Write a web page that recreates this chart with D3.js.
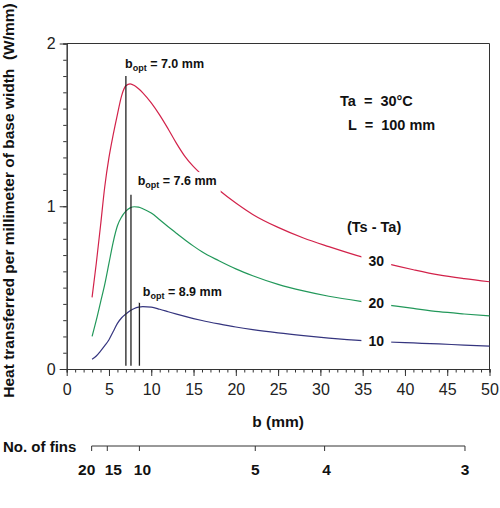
<!DOCTYPE html>
<html>
<head>
<meta charset="utf-8">
<script src="https://cdn.jsdelivr.net/npm/d3@7"></script>
<style>
  body { margin: 0; background: #fff; }
  svg { display: block; }
  text { font-family: "Liberation Sans", Arial, sans-serif; fill: #111; }
</style>
</head>
<body>
<div id="chart"></div>
<script>
// fin width b (mm) and heat flow per mm of base width (W/mm)
var bValues = [3, 3.5, 4, 4.5, 5, 5.5, 6, 6.5, 7, 7.5, 8, 8.5, 9, 10, 11, 12, 13, 14, 15, 16,
               18, 20, 22, 25, 28, 31, 35, 38, 41, 44, 47, 50];
var q30 = [0.44, 0.65, 0.88, 1.12, 1.30, 1.44, 1.565, 1.68, 1.74, 1.752, 1.742, 1.722, 1.697, 1.635,
           1.56, 1.475, 1.385, 1.305, 1.243, 1.193, 1.10, 1.02, 0.95, 0.87, 0.805, 0.752, 0.687,
           0.646, 0.61, 0.578, 0.555, 0.536];
var q20 = [0.20, 0.30, 0.41, 0.52, 0.65, 0.78, 0.88, 0.935, 0.97, 0.99, 0.997, 0.995, 0.985, 0.958,
           0.917, 0.874, 0.833, 0.793, 0.755, 0.72, 0.665, 0.615, 0.573, 0.52, 0.48, 0.447, 0.414,
           0.393, 0.372, 0.352, 0.338, 0.326];
var q10 = [0.06, 0.08, 0.11, 0.143, 0.18, 0.23, 0.28, 0.315, 0.338, 0.358, 0.372, 0.38, 0.383, 0.38,
           0.367, 0.352, 0.337, 0.323, 0.31, 0.298, 0.277, 0.258, 0.242, 0.222, 0.205, 0.19, 0.174,
           0.166, 0.16, 0.154, 0.147, 0.141];
var seriesNames = ["30", "20", "10"];
var seriesColors = ["#d2224a", "#22985a", "#35357f"];

// optimum spacing markers
var optLineB = [7.0, 7.6, 8.6];
var optLineTop = [1.80, 1.07, 0.41];
var optLabels = ["7.0", "7.6", "8.9"];
var optLabelB = [6.9, 8.4, 9.0];
var optLabelV = [1.85, 1.13, 0.45];

// number of fins scale (position on the b axis)
var finCounts = [20, 15, 10, 5, 4, 3];
var finB = [2.95, 4.8, 8.6, 22.3, 30.5, 47.1];
var finLabelShift = [-5, 6, 3, 0, 2, 0];

var xTicks = [0, 5, 10, 15, 20, 25, 30, 35, 40, 45, 50];
var yTicks = [0, 1, 2];
var seriesLabelB = 36.6;

var width = 500, height = 508;
var svg = d3.select("#chart").append("svg")
    .attr("width", width).attr("height", height);

var x = d3.scaleLinear().domain([0, 50]).range([66.7, 489.5]);
var y = d3.scaleLinear().domain([0, 2]).range([369, 43.5]);
var axisColor = "#333";

// frame top and right
svg.append("line").attr("x1", x(0)).attr("x2", x(50)).attr("y1", y(2)).attr("y2", y(2))
   .attr("stroke", axisColor);
svg.append("line").attr("x1", x(50)).attr("x2", x(50)).attr("y1", y(2)).attr("y2", y(0))
   .attr("stroke", axisColor);

// x axis: minor then major
svg.append("g").attr("transform", "translate(0," + y(0) + ")")
   .call(d3.axisBottom(x).tickValues(d3.range(0, 51, 1)).tickSize(3.5).tickFormat(""));
var gx = svg.append("g").attr("transform", "translate(0," + y(0) + ")")
   .call(d3.axisBottom(x).tickValues(xTicks).tickSize(7).tickPadding(8).tickSizeOuter(0));
gx.selectAll("text").style("font-size", "16px").style("fill", "#222");

// y axis
svg.append("g").attr("transform", "translate(" + x(0) + ",0)")
   .call(d3.axisLeft(y).tickValues(d3.range(0, 21, 1).map(function(d){ return d / 10; }))
   .tickSize(3.5).tickFormat(""));
var gy = svg.append("g").attr("transform", "translate(" + x(0) + ",0)")
   .call(d3.axisLeft(y).tickValues(yTicks).tickSize(7).tickPadding(4).tickSizeOuter(0)
   .tickFormat(d3.format("d")));
gy.selectAll("text").style("font-size", "16px").style("fill", "#222");

svg.selectAll(".domain, .tick line").attr("stroke", axisColor);

// curves
var seriesData = [q30, q20, q10];
var line = d3.line()
    .x(function(d, i){ return x(bValues[i]); })
    .y(function(d){ return y(d); })
    .curve(d3.curveMonotoneX);
svg.append("g").selectAll("path").data(seriesData).join("path")
   .attr("d", line)
   .attr("fill", "none")
   .attr("stroke", function(d, i){ return seriesColors[i]; })
   .attr("stroke-width", 1.2);

// b_opt vertical lines
svg.append("g").selectAll("line").data(optLineB).join("line")
   .attr("x1", function(d){ return x(d); }).attr("x2", function(d){ return x(d); })
   .attr("y1", function(d, i){ return y(optLineTop[i]); })
   .attr("y2", y(0.02))
   .attr("stroke", "#222").attr("stroke-width", 1.3);

// label with white knockout behind it
function knockout(t, padX, padY) {
  var bb = t.node().getBBox();
  svg.insert("rect", function(){ return t.node(); })
     .attr("x", bb.x - padX).attr("y", bb.y - padY)
     .attr("width", bb.width + 2 * padX).attr("height", bb.height + 2 * padY)
     .attr("fill", "#fff");
}

optLabels.forEach(function(lab, i) {
  var t = svg.append("text")
     .attr("x", x(optLabelB[i])).attr("y", y(optLabelV[i]))
     .style("font-size", "12.5px").style("font-weight", "bold");
  t.append("tspan").text("b");
  t.append("tspan").attr("dy", 3).style("font-size", "9px").text("opt");
  t.append("tspan").attr("dy", -3).attr("xml:space", "preserve").text(" = " + lab + " mm");
  knockout(t, 4, 2);
});

// series labels on curves
seriesNames.forEach(function(name, i) {
  var idx = d3.bisectLeft(bValues, seriesLabelB);
  var b0 = bValues[idx - 1], b1 = bValues[idx];
  var s = seriesData[i];
  var val = s[idx - 1] + (s[idx] - s[idx - 1]) * (seriesLabelB - b0) / (b1 - b0);
  var t = svg.append("text")
     .attr("x", x(seriesLabelB)).attr("y", y(val)).attr("dy", "0.35em")
     .attr("text-anchor", "middle")
     .style("font-size", "14px").style("font-weight", "bold")
     .text(name);
  knockout(t, 7, 1);
});

// condition notes
svg.append("text").attr("x", 340).attr("y", 106).attr("xml:space", "preserve")
   .style("font-size", "14.5px").style("font-weight", "bold").text("Ta  =  30\u00b0C");
svg.append("text").attr("x", 348).attr("y", 130).attr("xml:space", "preserve")
   .style("font-size", "14.5px").style("font-weight", "bold").text("L  =  100 mm");
svg.append("text").attr("x", 347).attr("y", 232).attr("xml:space", "preserve")
   .style("font-size", "14.5px").style("font-weight", "bold").text("(Ts - Ta)");

// axis titles
svg.append("text").attr("x", (x(0) + x(50)) / 2).attr("y", 427).attr("text-anchor", "middle")
   .style("font-size", "15.5px").style("font-weight", "bold").text("b (mm)");
svg.append("text").attr("transform", "translate(14,200.5) rotate(-90)")
   .attr("text-anchor", "middle").attr("xml:space", "preserve")
   .style("font-size", "15.5px").style("font-weight", "bold")
   .text("Heat transferred per millimeter of base width  (W/mm)");

// number of fins axis
var finY = 446;
svg.append("line").attr("x1", x(finB[0])).attr("x2", x(finB[finB.length - 1]))
   .attr("y1", finY).attr("y2", finY).attr("stroke", axisColor);
svg.append("g").selectAll("line").data(finB).join("line")
   .attr("x1", function(d){ return x(d); }).attr("x2", function(d){ return x(d); })
   .attr("y1", finY).attr("y2", finY + 5).attr("stroke", axisColor);
svg.append("g").selectAll("text").data(finCounts).join("text")
   .attr("x", function(d, i){ return x(finB[i]) + finLabelShift[i]; }).attr("y", 475)
   .attr("text-anchor", "middle")
   .style("font-size", "15.5px").style("font-weight", "bold")
   .text(function(d){ return d; });
svg.append("text").attr("x", 3).attr("y", 452)
   .style("font-size", "15px").style("font-weight", "bold").text("No. of fins");
</script>
</body>
</html>
